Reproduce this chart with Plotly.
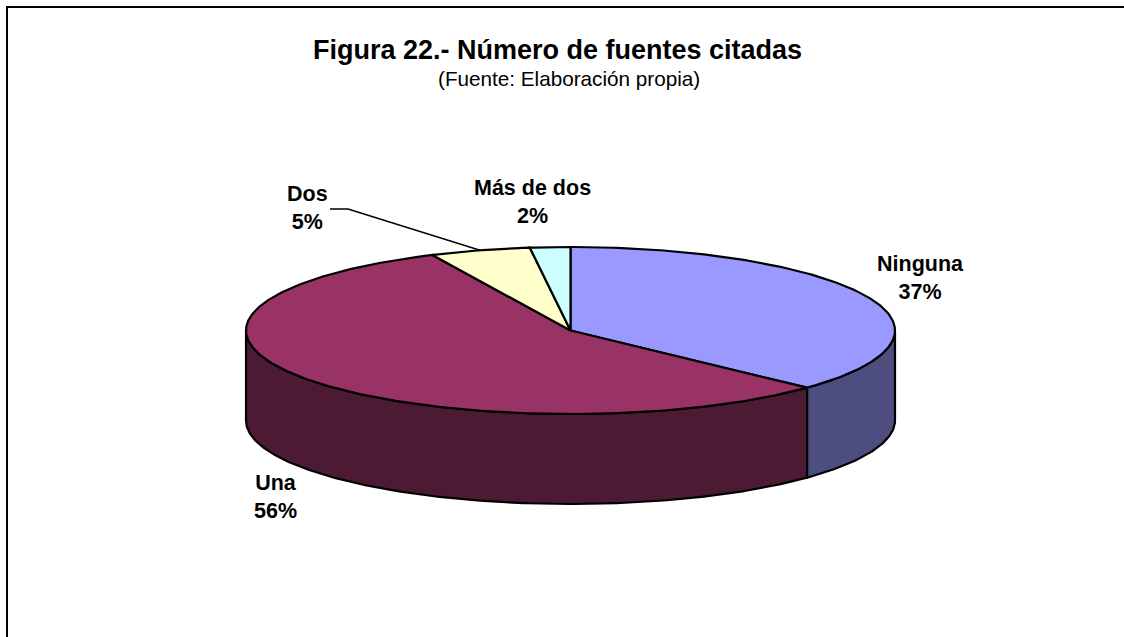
import numpy as np
import plotly.graph_objects as go

categories = ["Ninguna", "Una", "Dos", "Más de dos"]
values = [37, 56, 5, 2]
top_colors = ["#9999FF", "#993366", "#FFFFCC", "#CCFFFF"]
side_colors = ["#4D4D80", "#4D1A33", "#808066", "#668080"]
title = "Figura 22.- Número de fuentes citadas"
subtitle = "(Fuente: Elaboración propia)"
label_pos = [(920, 278), (275.5, 496.5), (307, 207.5), (532, 202)]
W, H = 1124, 637
CX, CY, RX, RY, DEPTH = 570.5, 330.5, 324.5, 83.5, 90
LW = 2.2


def rim(a0, a1, dy=0.0):
    n = max(int(abs(a1 - a0) * 90), 2)
    t = np.linspace(a0, a1, n)
    return CX + RX * np.sin(t), CY - RY * np.cos(t) + dy


fracs = np.cumsum([0] + values) / sum(values) * 2 * np.pi
fig = go.Figure()

# Visible wall: front half of the pie only
for i in range(len(values)):
    a0, a1 = max(fracs[i], np.pi / 2), min(fracs[i + 1], 3 * np.pi / 2)
    if a1 <= a0:
        continue
    x0, y0 = rim(a0, a1)
    x1, y1 = rim(a1, a0, DEPTH)
    fig.add_trace(go.Scatter(
        x=np.r_[x0, x1, x0[0]], y=np.r_[y0, y1, y0[0]], mode="lines", fill="toself",
        fillcolor=side_colors[i], line=dict(color="black", width=LW),
        hoverinfo="skip", showlegend=False))

# Top face
for i in range(len(values)):
    x0, y0 = rim(fracs[i], fracs[i + 1])
    fig.add_trace(go.Scatter(
        x=np.r_[CX, x0, CX], y=np.r_[CY, y0, CY], mode="lines", fill="toself",
        fillcolor=top_colors[i], line=dict(color="black", width=LW),
        name=categories[i], showlegend=False))

# Leader line of the "Dos" label
mid_dos = (fracs[2] + fracs[3]) / 2
lx, ly = rim(mid_dos, mid_dos + 0.001)
fig.add_trace(go.Scatter(x=[330, 348, lx[0]], y=[209, 209, ly[0]], mode="lines",
                         line=dict(color="black", width=1.5),
                         hoverinfo="skip", showlegend=False))

# Outer frame (open at the bottom and right)
fig.add_trace(go.Scatter(x=[7, 7, W], y=[H, 7, 7], mode="lines",
                         line=dict(color="black", width=2),
                         hoverinfo="skip", showlegend=False))

font = "Liberation Sans, Arial, sans-serif"
for cat, v, (x, y) in zip(categories, values, label_pos):
    fig.add_annotation(x=x, y=y, text=f"<b>{cat}</b><br><b>{v}%</b>", showarrow=False,
                       font=dict(family=font, size=21.5, color="black"), align="center")
fig.add_annotation(x=557, y=50, text=f"<b>{title}</b>", showarrow=False,
                   font=dict(family=font, size=27, color="black"))
fig.add_annotation(x=569, y=78, text=subtitle, showarrow=False,
                   font=dict(family=font, size=20.7, color="black"))

fig.update_layout(
    width=W, height=H, margin=dict(l=0, r=0, t=0, b=0), autosize=False,
    paper_bgcolor="white", plot_bgcolor="white",
    xaxis=dict(range=[0, W], visible=False, fixedrange=True),
    yaxis=dict(range=[H, 0], visible=False, fixedrange=True),
)
fig.write_html("out.html", config={"displayModeBar": False},
               post_script="document.body.style.margin='0';document.body.style.overflow='hidden';")
